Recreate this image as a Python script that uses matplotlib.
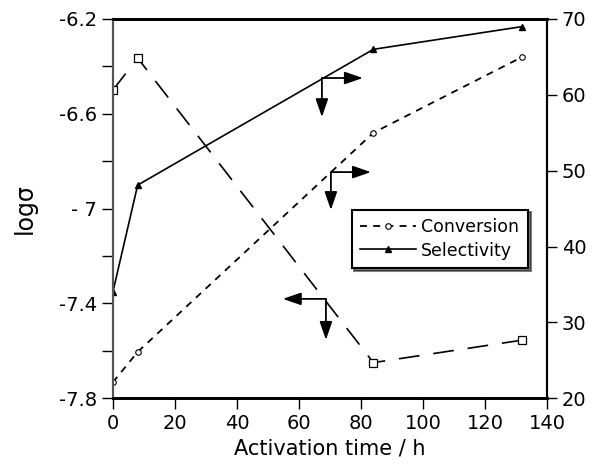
import numpy as np
import matplotlib
matplotlib.use("Agg")
import matplotlib.pyplot as plt
from matplotlib.ticker import MultipleLocator

plt.rcParams['font.family'] = ['DejaVu Sans']
plt.rcParams['lines.scale_dashes'] = False

# data
time_h = [0, 8, 84, 132]
log_sigma = [-6.50, -6.365, -7.65, -7.555]
conversion = [22.1, 26.1, 55.0, 65.0]
selectivity = [34.0, 48.1, 66.0, 69.0]


fig = plt.figure(figsize=(5.94, 4.69), dpi=100)
ax = fig.add_axes([0.190, 0.151, 0.731, 0.8085])
ax2 = ax.twinx()

# log sigma on the left axis
ax.plot(time_h, log_sigma, color="black", lw=1.2, dashes=(15, 10),
        marker="s", ms=6, mfc="white", mec="black", mew=0.9, zorder=3)

# conversion / selectivity on the right axis
ax2.plot(time_h, conversion, color="black", lw=1.3, dashes=(5, 4.5),
         marker="o", ms=4, mfc="white", mec="black", mew=0.8,
         label="Conversion")
ax2.plot(time_h, selectivity, color="black", lw=1.2, ls="-",
         marker="^", ms=5, mfc="black", mec="black",
         label="Selectivity")

ax.set_xlim(0, 140)
ax.set_ylim(-7.8, -6.2)
ax2.set_ylim(20, 70)

ax.xaxis.set_major_locator(MultipleLocator(20))
ax.yaxis.set_minor_locator(MultipleLocator(0.2))
ax2.yaxis.set_major_locator(MultipleLocator(10))
ax.set_yticks([-7.8, -7.4, -7.0, -6.6, -6.2])
ax.set_yticklabels(["-7.8", "-7.4", "- 7", "-6.6", "-6.2"])

ax.tick_params(axis="both", which="both", direction="out", length=8,
               width=1, labelsize=14, colors="black")
ax2.tick_params(axis="y", direction="out", length=7, width=1, labelsize=14)

for a in (ax, ax2):
    a.spines["top"].set_linewidth(2)
    a.spines["bottom"].set_linewidth(2)
    a.spines["right"].set_linewidth(1.5)
    a.spines["left"].set_linewidth(1.5)
    a.spines["left"].set_color("#555555")

ax.set_xlabel("Activation time / h", fontsize=15)
ax.set_ylabel("logσ", fontsize=17, labelpad=16)

# arrows telling which axis belongs to which curve
arrow = dict(arrowstyle="-|>,head_length=1.1,head_width=0.38",
             color="black", lw=1.3, shrinkA=0, shrinkB=0)
corners = [((67.4, -6.449), (80.6, -6.449), (67.4, -6.614)),
           ((70.3, -6.846), (83.2, -6.846), (70.3, -7.006)),
           ((68.7, -7.381), (54.8, -7.381), (68.7, -7.554))]
for c, side, down in corners:
    ax.annotate("", xy=side, xytext=c, arrowprops=arrow)
    ax.annotate("", xy=down, xytext=c, arrowprops=arrow)

leg = ax2.legend(loc="upper left", bbox_to_anchor=(0.53, 0.52),
                 fontsize=12.5, frameon=True, fancybox=False,
                 shadow={"color": "black"}, handlelength=3.2,
                 borderpad=0.5, labelspacing=0.3, handletextpad=0.3)
leg.get_frame().set_edgecolor("black")
leg.get_frame().set_linewidth(1.5)

fig.savefig("out.png", dpi=100)
